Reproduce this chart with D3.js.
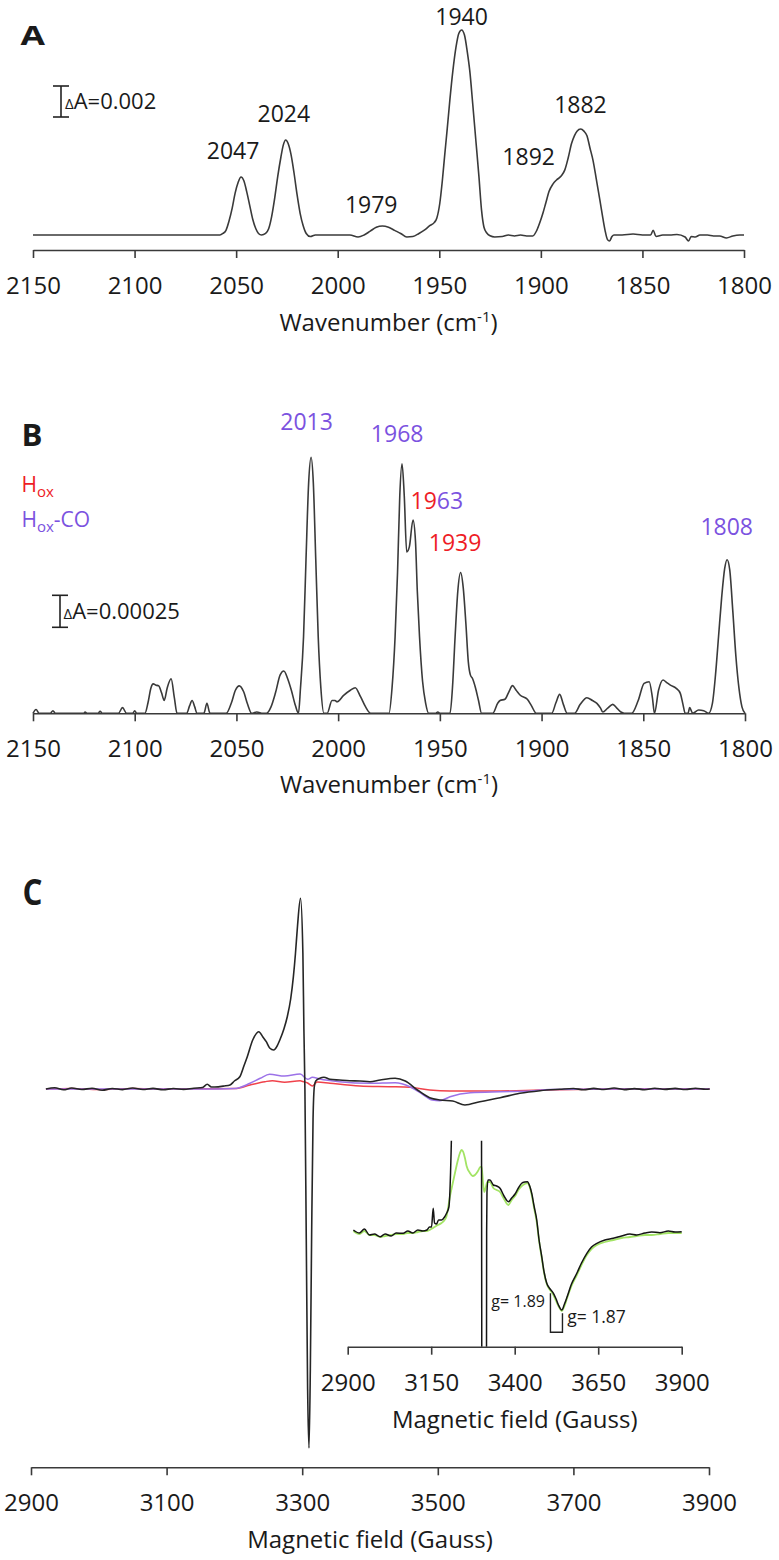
<!DOCTYPE html>
<html><head><meta charset="utf-8">
<script src="https://cdn.jsdelivr.net/npm/d3@7"></script>
<style>body{margin:0;background:#fff}svg{display:block}text{font-family:"Open Sans",sans-serif;fill:#1a1a1a}</style>
</head><body>
<script>
// ---------------- DATA ----------------
// Panel A: IR spectrum (wavenumber cm-1, absorbance)
const specA = [
[2150,0],[2120,0],[2090,0],[2065,0],[2058,0],
[2056.5,0.0001],[2055,0.0003],[2053.5,0.0009],[2052,0.0017],[2050.5,0.0027],[2049,0.0034],[2047.6,0.00374],[2046.2,0.0035],[2044.8,0.0028],[2043.3,0.0019],[2041.8,0.0010],[2040.3,0.0004],[2039,0.0001],[2037.5,0],
[2035.5,0.0001],[2034,0.0004],[2032.5,0.0012],[2031,0.0024],[2029.5,0.0038],[2028,0.0050],[2026.8,0.0058],[2025.6,0.00613],[2024.4,0.0059],[2023,0.0052],[2021.5,0.0040],[2020,0.0026],[2018.5,0.0014],[2017,0.0006],[2015.5,0.0001],[2013.5,-0.0001],[2011,0],
[2000,0],[1994,0],[1990,-0.00013],[1987,0],[1984,0.00025],[1981,0.0005],[1978,0.00058],[1975,0.0005],[1972,0.0003],[1969,0.0001],[1966,-0.00013],[1963,-0.0001],[1960,0.0001],[1957,0.00035],[1954.7,0.0006],[1952.5,0.0008],[1951.2,0.0011],
[1949.8,0.0020],[1948.5,0.0035],[1947.3,0.0052],[1946.2,0.0067],[1944.8,0.0087],[1943.3,0.0106],[1941.8,0.0121],[1940.4,0.0130],[1939,0.01323],[1937.6,0.0129],[1936.2,0.0118],[1935,0.0106],[1933.5,0.0084],[1932,0.0061],[1930.5,0.0038],[1929.2,0.0016],[1928,0.0005],[1926.6,0.00013],[1925,-0.00005],[1922.7,-0.00013],
[1919,-0.0001],[1916,0],[1913,-0.00006],[1910,0],[1907,-0.00006],[1904,-0.00006],[1902,0.0003],[1900.5,0.0008],[1899,0.0014],[1897.5,0.0021],[1896,0.0028],[1894,0.0033],[1892.3,0.00355],[1890,0.0038],[1888.2,0.0042],[1886.5,0.0050],[1884.9,0.0059],[1883.5,0.0064],[1882.2,0.0067],[1880.4,0.00684],[1878.8,0.0067],[1877.3,0.0064],[1875.8,0.0056],[1874.3,0.0048],[1872.7,0.0036],[1871,0.0023],[1869.5,0.0011],[1868.4,0.0003],[1867.2,-0.0003],[1866.2,-0.00039],[1865,-0.0001],[1864,0],
[1860,0],[1854.6,0.00006],[1850,0],[1846,0],[1844.7,0.0003],[1843.3,-0.0001],[1840,0],[1836.5,0],[1833,0.00003],[1829,-0.00013],[1827.3,-0.00039],[1826,-0.0001],[1824,-0.00013],[1821.7,0],[1818,0],[1815,-0.00006],[1812,-0.00006],[1808.6,-0.00019],[1805.5,-0.00006],[1802,0],[1800,0]
];
const peaksA = [
  {label:"2047", wn:2051.5, abs:0.0049},
  {label:"2024", wn:2026.5, abs:0.0073},
  {label:"1979", wn:1983.5, abs:0.0014},
  {label:"1940", wn:1939, abs:0.01352},
  {label:"1892", wn:1906, abs:0.0045},
  {label:"1882", wn:1880.5, abs:0.0079}
];
const ticksIR = [2150,2100,2050,2000,1950,1900,1850,1800];
const scaleBarA = 0.002;

// Panel B: difference IR spectrum (wavenumber, absorbance)
const specB = [
[2150,0],[2148.5,0.00003],[2147,0],[2141.5,0],[2140.2,0.00002],[2139,0],[2125,0],[2124.4,0.00001],[2123.5,0],[2118,0],[2117,0.000016],[2116,0],[2108,0],[2106,0.000044],[2104,0],[2101,0],[2100,0.00002],[2099,0],
[2095,0],[2093.5,0.00008],[2092,0.0002],[2090.9,0.00023],[2089.5,0.00022],[2088.2,0.000214],[2086.8,0.00016],[2085.5,0.0001],[2084,0.0002],[2082.1,0.00027],[2080.5,0.00012],[2079.2,0],
[2074.5,0],[2073,0.00006],[2071.8,0.0001],[2070.5,0.00005],[2069.4,0],[2066,0],[2064.5,0.000078],[2063,0],
[2055,0],[2052.5,0.00008],[2050.5,0.00018],[2048.6,0.000214],[2046.5,0.00017],[2044.5,0.00007],[2042.5,0],[2040,0.00001],[2037,0],
[2035.2,0],[2033,0.00005],[2030.8,0.00016],[2028.5,0.0003],[2026.7,0.00033],[2024.8,0.00027],[2023,0.00018],[2021,0.00006],[2019.5,0],
[2018.5,0.0002],[2017,0.0006],[2015.8,0.0012],[2014.5,0.0018],[2013.3,0.002],[2012.2,0.0018],[2011,0.0012],[2009.8,0.0006],[2008.5,0.0002],[2007,0],[2005.4,0],
[2003,0.0001],[2001.5,0.0001],[2000.6,0.00009],[1997.3,0.00014],[1994,0.00018],[1991.6,0.0002],[1989,0.00013],[1986.5,0.00005],[1984,0],
[1975,0],[1973.5,0.0002],[1972,0.0006],[1970.8,0.0011],[1969.7,0.0017],[1968.6,0.00195],[1967.5,0.0017],[1966.3,0.00126],[1965,0.0013],[1963.2,0.00151],[1962,0.00135],[1961.1,0.00096],[1960,0.0006],[1958.5,0.00025],[1957,0.00008],[1955.5,0],
[1952,0],[1951,0.00001],[1950,0],[1945,0],[1943.8,0.0002],[1942.5,0.0006],[1941.2,0.00095],[1939.8,0.0011],[1938.5,0.00098],[1937.2,0.0007],[1936,0.0004],[1935,0.0003],[1933.9,0.00027],[1932.5,0.0002],[1931,0.0001],[1929.5,0],
[1924,0],[1921.5,0.00008],[1920.4,0.0001],[1918,0.00011],[1916,0.00017],[1914.3,0.000216],[1912.5,0.00018],[1910.6,0.000143],[1907,0.00011],[1905,0.00006],[1902.6,0],
[1895,0],[1893,0.00008],[1891.1,0.000148],[1889.3,0.00007],[1887.4,0],
[1883.8,0],[1881,0.00007],[1877.7,0.000122],[1875,0.0001],[1872.8,0.000078],[1871,0.00004],[1869.9,0.00001],[1867.5,0.00004],[1865,0.00007],[1863,0.00004],[1861,0.00001],[1859.4,0],
[1855.7,0],[1852.5,0.0001],[1849.6,0.000234],[1847.1,0.000247],[1845.5,0.00012],[1844.5,0],[1842.5,0.00018],[1840.3,0.00026],[1838.5,0.00024],[1836.7,0.00022],[1833.8,0.000195],[1831.8,0.000156],[1830.5,0.00007],[1829.4,0],
[1828,0],[1827.2,0.000044],[1825.7,0],[1822.8,0.000026],[1820.3,0.00002],[1817.9,0],
[1816,0.00008],[1814.5,0.0003],[1813,0.0006],[1811.5,0.0009],[1810,0.00113],[1808.8,0.0012],[1807.5,0.00112],[1806,0.0008],[1804.5,0.00045],[1803,0.0002],[1801.5,0.00005],[1800,0]
];
const peaksB = [
  {parts:[["2013","co"]], wn:2015.5, abs:0.00221},
  {parts:[["1968","co"]], wn:1971, abs:0.00212},
  {parts:[["19","ox"],["63","co"]], wn:1951.5, abs:0.00160},
  {parts:[["1939","ox"]], wn:1942.5, abs:0.00127},
  {parts:[["1808","co"]], wn:1809, abs:0.00139}
];
const legendB = [{name:"H", sub:"ox", suffix:"", key:"ox"},{name:"H", sub:"ox", suffix:"-CO", key:"co"}];
const scaleBarB = 0.00025;

// Panel C: EPR spectra (field in Gauss, intensity a.u.)
const eprBlack = [
[2922,0],[2935,0.12],[2948,-0.08],[2960,0.1],[2975,-0.05],[2990,0.08],[3005,-0.12],[3020,0.05],[3035,-0.06],[3050,0.1],[3065,-0.05],[3080,0.06],[3095,-0.08],[3110,0.05],[3125,-0.04],[3140,0.08],[3153,0.15],
[3160,0.47],[3166,0.2],[3171,0.2],[3185,0.3],[3193.5,0.4],[3200,0.8],[3208,1.23],[3214,2.3],[3219,3.23],[3227,4.9],[3236,5.73],[3242,5.2],[3247,4.73],[3252,4.1],[3258,3.9],[3263,4.3],[3267,4.9],[3273,6.0],[3278,7.23],[3283,9.0],[3287,11.23],[3290,13.5],[3293,16.23],[3297.5,19.07],[3301,13.6],[3302.5,6],[3304,0],[3306,-15],[3308,-30],[3310,-35.9],[3312,-28],[3314,-14],[3316,-3],[3318,0.3],[3320,0.8],
[3326,1.07],[3332,1.17],[3341,0.97],[3355,0.9],[3370,0.83],[3385,0.8],[3400,0.73],[3415,0.9],[3437,1.07],[3452,0.8],[3470,-0.1],[3488,-0.87],[3503,-1.1],[3522,-1.2],[3540,-1.6],[3562,-1.27],[3592,-0.87],[3621,-0.43],[3651,-0.17],[3680,-0.03],
[3700,0.05],[3715,-0.08],[3730,0.06],[3745,-0.05],[3760,0.1],[3775,-0.06],[3790,0.04],[3805,-0.07],[3820,0.08],[3835,-0.04],[3850,0.06],[3865,-0.05],[3880,0.07],[3895,-0.03],[3901,0]
];
const eprHox = [
[2922,0],[2960,0.05],[3000,-0.05],[3050,0.05],[3100,0],[3150,0.03],[3201,0.05],[3223,0.4],[3245,0.73],[3256,0.83],[3274,0.67],[3297,0.83],[3301,0.75],[3308,0.6],[3315,0.3],[3322,0.7],[3341,0.57],[3385,0.3],[3429,0.23],[3459,0.17],[3488,-0.1],[3518,-0.2],[3592,-0.2],[3651,-0.1],[3750,0],[3820,0.03],[3901,0]
];
const eprHoxCO = [
[2922,0],[2960,0],[3050,0],[3150,0],[3201,0.05],[3223,0.57],[3238,1.07],[3252,1.47],[3274,1.3],[3297,1.5],[3308,0.97],[3315,1.17],[3326,1.0],[3355,0.73],[3400,0.57],[3437,0.63],[3459,0.23],[3477,-0.5],[3492,-1.1],[3503,-1.17],[3518,-0.77],[3548,-0.37],[3592,-0.27],[3636,-0.2],[3665,-0.05],[3750,0],[3901,0]
];
const ticksEPR = [2900,3100,3300,3500,3700,3900];

// Inset: expanded EPR (experimental black, simulation green)
const insetBlack = [
[2917,0.2],[2935,-0.1],[2950,0.3],[2965,-0.3],[2980,-0.2],[2997,-0.47],[3012,-0.2],[3030,-0.4],[3045,-0.1],[3066,-0.13],[3080,0.1],[3095,-0.1],[3110,0.2],[3125,0.1],[3137,0.2],[3145,0.5],[3151,0.5],[3156,2.37],[3160,0.9],[3166,0.8],[3172,1.2],[3181,1.2],[3190,1.5],[3196,1.87],[3203,2.5],[3208,6],[3212,12],[3220,40],[3236,60],[3250,50],[3270,60],[3290,120],[3297,190],[3300,30],[3301,0],[3302,-30],[3310,-359],[3315,-30],[3316,0],[3317,4],[3320,5.2],[3326,5.2],[3336,4.7],[3346,4.6],[3356,4.37],[3368,3.6],[3381,3.03],[3391,3.4],[3401,3.8],[3411,4.4],[3421,4.87],[3430,5.0],[3438,5.03],[3445,4.6],[3451,3.87],[3458,2.6],[3466,1.2],[3473,-0.8],[3481,-2.47],[3488,-4],[3496,-5.13],[3506,-5.7],[3516,-6.13],[3524,-6.7],[3531,-7.3],[3541,-7.8],[3549,-7.2],[3557,-6.47],[3570,-5.2],[3586,-4.13],[3600,-3.1],[3616,-2.13],[3630,-1.5],[3646,-1.13],[3670,-0.8],[3695,-0.63],[3720,-0.4],[3745,-0.2],[3765,-0.3],[3790,-0.1],[3810,0],[3835,-0.07],[3860,0.1],[3880,0],[3900,0.03]
];
const insetGreen = [
[2917,0.1],[2935,-0.2],[2950,0.1],[2965,-0.3],[2980,-0.3],[2997,-0.5],[3012,-0.4],[3030,-0.3],[3045,-0.2],[3066,-0.2],[3080,-0.1],[3095,-0.1],[3110,0],[3125,0.1],[3137,0.1],[3150,0.3],[3160,0.5],[3170,0.7],[3181,0.9],[3190,1.2],[3196,1.6],[3206,3.53],[3214,4.8],[3221,5.87],[3230,7.2],[3236,7.9],[3241,8.2],[3246,8.0],[3251,7.4],[3256,6.6],[3266,5.9],[3274,5.6],[3281,5.7],[3290,6.1],[3297,6.5],[3301,6.53],[3305,5.0],[3309,4.0],[3313,4.4],[3318,5.0],[3326,5.0],[3336,4.4],[3346,4.2],[3356,4.0],[3368,3.3],[3381,2.7],[3391,3.2],[3401,3.6],[3411,4.2],[3421,4.6],[3430,4.8],[3438,4.9],[3445,4.5],[3451,3.7],[3458,2.4],[3466,1.0],[3473,-0.9],[3481,-2.6],[3488,-4.1],[3496,-5.2],[3506,-5.8],[3516,-6.3],[3524,-6.9],[3531,-7.4],[3541,-7.9],[3549,-7.4],[3557,-6.6],[3570,-5.4],[3586,-4.3],[3600,-3.3],[3616,-2.3],[3630,-1.7],[3646,-1.3],[3670,-1.0],[3695,-0.8],[3720,-0.6],[3745,-0.5],[3765,-0.4],[3790,-0.3],[3810,-0.3],[3835,-0.2],[3860,-0.1],[3880,-0.1],[3900,-0.1]
];
const ticksInset = [2900,3150,3400,3650,3900];
const gMarks = [
  {label:"g= 1.89", field:3330, value:-7.5, size:16},
  {label:"g= 1.87", field:3557, value:-9.1, size:17.5, bracket:[3507,3543]}
];

// ---------------- DRAW ----------------
const W = 779, H = 1560;
const svg = d3.select("body").append("svg").attr("width",W).attr("height",H);
const col = {ox:"#ee1c25", co:"#7b52e0", axis:"#3a3a3a", line:"#3a3a3a"};
const lineGen = (x,y) => d3.line().x(d=>x(d[0])).y(d=>y(d[1])).curve(d3.curveMonotoneX);

function bottomAxis(x, y0, ticks, fmt, title, titleY){
  const g = svg.append("g").attr("transform",`translate(0,${y0})`)
    .call(d3.axisBottom(x).tickValues(ticks).tickFormat(fmt).tickSize(8).tickSizeOuter(0));
  g.select(".domain").attr("stroke",col.axis).attr("stroke-width",1.6);
  g.selectAll(".tick line").attr("stroke",col.axis).attr("stroke-width",1.6);
  g.selectAll(".tick text").attr("y",44).attr("dy",0).attr("font-size",24)
    .attr("font-family","Open Sans").attr("fill","#1a1a1a");
  const x0 = d3.mean(x.range());
  const t = svg.append("text").attr("x",x0).attr("y",titleY).attr("text-anchor","middle").attr("font-size",24);
  return t;
}
function panelLetter(txt, x, y, size, len){
  svg.append("text").attr("x",x).attr("y",y).attr("font-size",size).attr("font-weight","bold")
    .attr("textLength",len).attr("lengthAdjust","spacingAndGlyphs").attr("fill","#111").text(txt);
}
function scaleBar(yScale, amount, xc, yBottom, label, tx){
  const len = yScale(0) - yScale(amount);
  const yt = yBottom - len;
  const g = svg.append("g").attr("stroke","#222").attr("stroke-width",1.6);
  g.append("line").attr("x1",xc).attr("x2",xc).attr("y1",yt).attr("y2",yBottom);
  g.append("line").attr("x1",xc-8).attr("x2",xc+8).attr("y1",yt).attr("y2",yt);
  g.append("line").attr("x1",xc-8).attr("x2",xc+8).attr("y1",yBottom).attr("y2",yBottom);
  const t = svg.append("text").attr("x",tx).attr("y",(yt+yBottom)/2+7.5).attr("font-size",22);
  t.append("tspan").attr("font-size",15).text("Δ");
  t.append("tspan").text(label);
}

// ---- Panel A ----
const xA = d3.scaleLinear().domain([2150,1800]).range([33,744]);
const yA = d3.scaleLinear().domain([0,0.002]).range([235,204]);
panelLetter("A",20.5,45,27,24.5);
svg.append("path").datum(specA).attr("d",lineGen(xA,yA)).attr("fill","none").attr("stroke",col.line).attr("stroke-width",1.6);
svg.selectAll(".pkA").data(peaksA).enter().append("text")
  .attr("x",d=>xA(d.wn)).attr("y",d=>yA(d.abs)).attr("text-anchor","middle").attr("font-size",23).text(d=>d.label);
scaleBar(yA, scaleBarA, 61, 117, "A=0.002", 65);
{
  const t = bottomAxis(xA, 250, ticksIR, d3.format("d"), "", 331);
  t.append("tspan").text("Wavenumber (cm");
  t.append("tspan").attr("font-size",15).attr("dy",-9).text("-1");
  t.append("tspan").attr("dy",9).text(")");
}

// ---- Panel B ----
const xB = d3.scaleLinear().domain([2150,1800]).range([33,745]);
const yB = d3.scaleLinear().domain([0,0.00025]).range([713.3,681.3]);
panelLetter("B",21.5,445.7,31,21);
legendB.forEach((d,i)=>{
  const t = svg.append("text").attr("x",21.5).attr("y",491.7+i*35).attr("font-size",21).attr("fill",col[d.key]).style("fill",col[d.key]);
  t.append("tspan").text(d.name);
  t.append("tspan").attr("font-size",15).attr("dy",5).text(d.sub);
  if(d.suffix) t.append("tspan").attr("dy",-5).text(d.suffix);
});
svg.append("path").datum(specB).attr("d",lineGen(xB,yB)).attr("fill","none").attr("stroke",col.line).attr("stroke-width",1.6);
peaksB.forEach(p=>{
  const t = svg.append("text").attr("x",xB(p.wn)).attr("y",yB(p.abs)).attr("text-anchor","middle").attr("font-size",23);
  p.parts.forEach(([s,k])=>t.append("tspan").style("fill",col[k]).text(s));
});
scaleBar(yB, scaleBarB, 60, 627.3, "A=0.00025", 63.5);
{
  const t = bottomAxis(xB, 713.3, ticksIR, d3.format("d"), "", 793);
  t.append("tspan").text("Wavenumber (cm");
  t.append("tspan").attr("font-size",15).attr("dy",-9).text("-1");
  t.append("tspan").attr("dy",9).text(")");
}

// ---- Panel C ----
const xC = d3.scaleLinear().domain([2900,3900]).range([31,709]);
const yC = d3.scaleLinear().domain([0,10]).range([1089,989]);
panelLetter("C",22.5,905,35,20);
svg.append("path").datum(eprHox).attr("d",lineGen(xC,yC)).attr("fill","none").attr("stroke","#f0424b").attr("stroke-width",1.5);
svg.append("path").datum(eprHoxCO).attr("d",lineGen(xC,yC)).attr("fill","none").attr("stroke","#9c72e8").attr("stroke-width",1.5);
svg.append("path").datum(eprBlack).attr("d",lineGen(xC,yC)).attr("fill","none").attr("stroke","#262626").attr("stroke-width",1.6);
bottomAxis(xC, 1467.3, ticksEPR, d3.format("d"), "", 1548).text("Magnetic field (Gauss)");

// ---- Inset ----
const xI = d3.scaleLinear().domain([2900,3900]).range([347.7,681.7]);
const yI = d3.scaleLinear().domain([0,10]).range([1232,1132]);
svg.append("clipPath").attr("id","insetClip").append("rect").attr("x",330).attr("y",1140.7).attr("width",370).attr("height",206);
const ig = svg.append("g").attr("clip-path","url(#insetClip)");
ig.append("path").datum(insetGreen).attr("d",lineGen(xI,yI)).attr("fill","none").attr("stroke","#a3e465").attr("stroke-width",1.8);
ig.append("path").datum(insetBlack).attr("d",lineGen(xI,yI)).attr("fill","none").attr("stroke","#151515").attr("stroke-width",1.5);
gMarks.forEach(m=>{
  svg.append("text").attr("x",xI(m.field)).attr("y",yI(m.value)).attr("font-size",m.size).text(m.label);
  if(m.bracket){
    const [a,b] = m.bracket;
    svg.append("path").attr("d",`M${xI(a)},1293.3 V1332.3 H${xI(b)} V1313.3`)
      .attr("fill","none").attr("stroke","#222").attr("stroke-width",1.4);
  }
});
bottomAxis(xI, 1346.7, ticksInset, d3.format("d"), "", 1428).text("Magnetic field (Gauss)");
</script>
</body></html>
